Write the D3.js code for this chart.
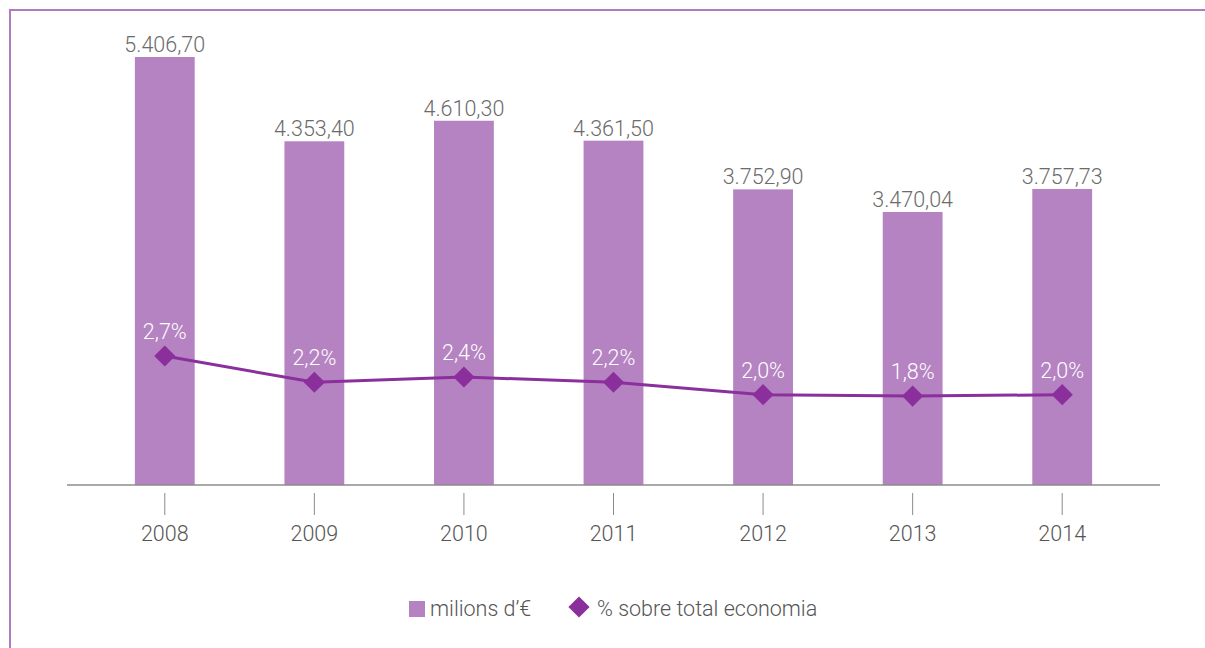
<!DOCTYPE html>
<html><head><meta charset="utf-8">
<script src="https://cdn.jsdelivr.net/npm/d3@7"></script>
<style>
html,body{margin:0;padding:0;background:#fff;}
svg{display:block;font-family:Roboto,"Liberation Sans",sans-serif;font-weight:300;}
</style></head>
<body>
<svg id="chart" width="1205" height="648"></svg>
<script>
const years = ["2008","2009","2010","2011","2012","2013","2014"];
const milions = [5406.70, 4353.40, 4610.30, 4361.50, 3752.90, 3470.04, 3757.73];
const milionsLabels = ["5.406,70","4.353,40","4.610,30","4.361,50","3.752,90","3.470,04","3.757,73"];
const pctShare = [2.70, 2.15, 2.26, 2.15, 1.89, 1.86, 1.89];
const pctLabels = ["2,7%","2,2%","2,4%","2,2%","2,0%","1,8%","2,0%"];
const legendLabels = ["milions d\u2019\u20AC", "% sobre total economia"];

const barColor = "#b583c1", lineColor = "#8b2f9c";
const fs = 21.5;
const svg = d3.select("#chart");

// frame lines
svg.append("line").attr("x1",9).attr("x2",1205).attr("y1",10).attr("y2",10).attr("stroke","#b07cc0").attr("stroke-width",2);
svg.append("line").attr("x1",10).attr("x2",10).attr("y1",9).attr("y2",648).attr("stroke","#b07cc0").attr("stroke-width",2);

const baseY = 485;
const x = d3.scaleBand().domain(years).range([90,1137]).paddingInner(0.6).paddingOuter(0.3);
const y = d3.scaleLinear().domain([59, 6119]).range([baseY, 0]);
const y2 = d3.scaleLinear().domain([0, 10.15]).range([baseY, 0]);

// bars
svg.append("g").selectAll("rect").data(years).join("rect")
  .attr("x", d=>x(d)).attr("width", x.bandwidth())
  .attr("y", (d,i)=>y(milions[i])).attr("height",(d,i)=>baseY - y(milions[i]))
  .attr("fill", barColor);

// value labels
svg.append("g").selectAll("text").data(years).join("text")
  .attr("x", d=>x(d)+x.bandwidth()/2).attr("y",(d,i)=>y(milions[i])-5)
  .attr("text-anchor","middle").attr("font-size",fs).attr("fill","#6b6b6b")
  .text((d,i)=>milionsLabels[i]);

// axis line
svg.append("line").attr("x1",67).attr("x2",1160).attr("y1",baseY).attr("y2",baseY)
  .attr("stroke","#8c8c8c").attr("stroke-width",1.5);

// ticks & labels via axis
const axisG = svg.append("g").attr("transform",`translate(0,${baseY+8})`)
  .call(d3.axisBottom(x).tickSize(22).tickPadding(11));
axisG.select(".domain").remove();
axisG.selectAll(".tick line").attr("stroke","#8c8c8c").attr("stroke-width",1);
axisG.selectAll(".tick text").attr("font-size",fs).attr("fill","#555")
  .attr("font-family","Roboto, sans-serif").attr("font-weight",300);

// line
const cx = d => x(d)+x.bandwidth()/2;
svg.append("path").datum(years)
  .attr("d", d3.line().x(cx).y((d,i)=>y2(pctShare[i])))
  .attr("fill","none").attr("stroke",lineColor).attr("stroke-width",3);

const diamond = d3.symbol().type(d3.symbolSquare).size(225);
svg.append("g").selectAll("path").data(years).join("path")
  .attr("d", diamond)
  .attr("transform",(d,i)=>`translate(${cx(d)},${y2(pctShare[i])}) rotate(45)`)
  .attr("fill",lineColor);

svg.append("g").selectAll("text").data(years).join("text")
  .attr("x", cx).attr("y",(d,i)=>y2(pctShare[i])-17)
  .attr("text-anchor","middle").attr("font-size",fs).attr("fill","#fff")
  .text((d,i)=>pctLabels[i]);

// legend
const lg = svg.append("g");
lg.append("rect").attr("x",409).attr("y",601).attr("width",16).attr("height",16).attr("fill",barColor);
lg.append("text").attr("x",430).attr("y",616).attr("font-size",fs).attr("fill","#555").text(legendLabels[0]);
lg.append("path").attr("d",diamond).attr("transform","translate(579,607) rotate(45)").attr("fill",lineColor);
lg.append("text").attr("x",597).attr("y",616).attr("font-size",fs).attr("fill","#555").text(legendLabels[1]);
</script>
</body></html>
